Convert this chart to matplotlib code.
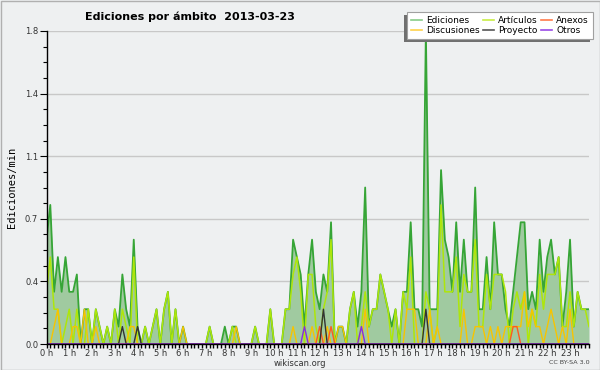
import matplotlib
matplotlib.use("Agg")
import matplotlib.pyplot as plt
import numpy as np
from matplotlib.lines import Line2D
from matplotlib.patches import Rectangle
from matplotlib.ticker import MultipleLocator, FixedLocator, FuncFormatter

# ---------------- data (edits per minute, 10-minute bins) ----------------
title = "Ediciones por ámbito  2013-03-23"
hour_labels = [f"{h} h" for h in range(24)]
bins_per_hour = 6

ediciones = [
    0.6, 0.8, 0.3, 0.5, 0.3, 0.5, 0.3, 0.3, 0.4, 0.0, 0.2, 0.2,
    0.0, 0.2, 0.1, 0.0, 0.1, 0.0, 0.2, 0.1, 0.4, 0.2, 0.1, 0.6,
    0.1, 0.0, 0.1, 0.0, 0.1, 0.2, 0.0, 0.2, 0.3, 0.0, 0.2, 0.0,
    0.1, 0.0, 0.0, 0.0, 0.0, 0.0, 0.0, 0.1, 0.0, 0.0, 0.0, 0.1,
    0.0, 0.1, 0.1, 0.0, 0.0, 0.0, 0.0, 0.1, 0.0, 0.0, 0.0, 0.2,
    0.0, 0.0, 0.0, 0.2, 0.2, 0.6, 0.5, 0.4, 0.1, 0.4, 0.6, 0.3,
    0.2, 0.4, 0.3, 0.7, 0.0, 0.1, 0.1, 0.0, 0.2, 0.3, 0.1, 0.3,
    0.9, 0.1, 0.2, 0.2, 0.4, 0.3, 0.2, 0.1, 0.2, 0.0, 0.3, 0.3,
    0.7, 0.2, 0.2, 0.1, 1.8, 0.2, 0.2, 0.2, 1.0, 0.6, 0.5, 0.3,
    0.7, 0.3, 0.6, 0.3, 0.3, 0.9, 0.2, 0.2, 0.5, 0.2, 0.7, 0.4,
    0.4, 0.2, 0.1, 0.3, 0.5, 0.7, 0.7, 0.2, 0.3, 0.2, 0.6, 0.3,
    0.5, 0.6, 0.4, 0.5, 0.1, 0.3, 0.6, 0.1, 0.3, 0.2, 0.2, 0.2,
]
articulos = [
    0.3, 0.5, 0.2, 0.2, 0.0, 0.1, 0.2, 0.0, 0.2, 0.0, 0.0, 0.2,
    0.0, 0.2, 0.1, 0.0, 0.1, 0.0, 0.2, 0.0, 0.2, 0.1, 0.0, 0.5,
    0.0, 0.0, 0.1, 0.0, 0.1, 0.2, 0.0, 0.2, 0.3, 0.0, 0.2, 0.0,
    0.0, 0.0, 0.0, 0.0, 0.0, 0.0, 0.0, 0.1, 0.0, 0.0, 0.0, 0.0,
    0.0, 0.1, 0.0, 0.0, 0.0, 0.0, 0.0, 0.1, 0.0, 0.0, 0.0, 0.2,
    0.0, 0.0, 0.0, 0.2, 0.2, 0.4, 0.5, 0.3, 0.0, 0.4, 0.4, 0.1,
    0.0, 0.2, 0.3, 0.6, 0.0, 0.0, 0.0, 0.0, 0.2, 0.3, 0.0, 0.1,
    0.3, 0.1, 0.2, 0.2, 0.4, 0.3, 0.2, 0.0, 0.2, 0.0, 0.3, 0.2,
    0.5, 0.0, 0.0, 0.0, 0.3, 0.2, 0.0, 0.1, 0.8, 0.3, 0.3, 0.3,
    0.5, 0.1, 0.4, 0.3, 0.3, 0.6, 0.1, 0.1, 0.4, 0.2, 0.4, 0.4,
    0.4, 0.3, 0.0, 0.2, 0.3, 0.2, 0.3, 0.0, 0.2, 0.1, 0.4, 0.2,
    0.4, 0.4, 0.4, 0.5, 0.1, 0.1, 0.3, 0.1, 0.3, 0.2, 0.2, 0.1,
]
discusiones = [
    0.0, 0.0, 0.1, 0.2, 0.0, 0.0, 0.0, 0.1, 0.1, 0.0, 0.2, 0.0,
    0.0, 0.1, 0.0, 0.0, 0.0, 0.0, 0.0, 0.0, 0.0, 0.0, 0.1, 0.1,
    0.0, 0.0, 0.0, 0.0, 0.0, 0.0, 0.0, 0.0, 0.0, 0.0, 0.0, 0.0,
    0.1, 0.0, 0.0, 0.0, 0.0, 0.0, 0.0, 0.0, 0.0, 0.0, 0.0, 0.0,
    0.0, 0.0, 0.1, 0.0, 0.0, 0.0, 0.0, 0.0, 0.0, 0.0, 0.0, 0.0,
    0.0, 0.0, 0.0, 0.0, 0.0, 0.1, 0.0, 0.0, 0.0, 0.0, 0.1, 0.0,
    0.0, 0.0, 0.1, 0.0, 0.0, 0.1, 0.1, 0.0, 0.0, 0.0, 0.0, 0.0,
    0.2, 0.0, 0.0, 0.0, 0.0, 0.0, 0.0, 0.0, 0.0, 0.0, 0.0, 0.2,
    0.2, 0.2, 0.0, 0.0, 0.0, 0.2, 0.0, 0.1, 0.0, 0.0, 0.0, 0.0,
    0.0, 0.0, 0.2, 0.0, 0.0, 0.1, 0.1, 0.1, 0.0, 0.1, 0.0, 0.1,
    0.0, 0.1, 0.1, 0.1, 0.1, 0.1, 0.3, 0.1, 0.2, 0.1, 0.1, 0.0,
    0.1, 0.2, 0.1, 0.0, 0.1, 0.0, 0.2, 0.0, 0.0, 0.0, 0.0, 0.0,
]
proyecto_bins = {20: 0.1, 24: 0.1, 73: 0.2, 100: 0.2}
anexos_bins = {72: 0.1, 75: 0.1, 123: 0.1, 124: 0.1}
otros_bins = {68: 0.1, 83: 0.1}
proyecto = [proyecto_bins.get(i, 0.0) for i in range(len(ediciones))]
anexos = [anexos_bins.get(i, 0.0) for i in range(len(ediciones))]
otros = [otros_bins.get(i, 0.0) for i in range(len(ediciones))]

# ---------------- styling ----------------
BG = "#eef0f1"
C_ED_LINE = "#36a536"
C_ED_FILL = "#a0caa0"
C_ART = "#aee60a"
C_DISC = "#f7c400"
C_PROY = "#333333"
C_ANEX = "#ff5a1f"
C_OTROS = "#8a2be2"

fig = plt.figure(figsize=(6.0, 3.7), dpi=100, facecolor=BG)
ax = fig.add_axes([46.5 / 600, 26 / 370, (589 - 46.5) / 600, (344 - 31) / 370])
ax.set_facecolor(BG)

x = np.arange(len(ediciones)) / bins_per_hour
ax.fill_between(x, 0, ediciones, color=C_ED_FILL, lw=0, zorder=1)
ax.plot(x, ediciones, color=C_ED_LINE, lw=1.3, zorder=2)
ax.plot(x, articulos, color=C_ART, lw=1.1, zorder=2.1)
ax.plot(x, discusiones, color=C_DISC, lw=1.0, zorder=2.2)
ax.plot(x, anexos, color=C_ANEX, lw=1.0, zorder=2.3)
ax.plot(x, proyecto, color=C_PROY, lw=1.0, zorder=2.4)
ax.plot(x, otros, color=C_OTROS, lw=1.0, zorder=2.5)

ax.set_xlim(0, (len(ediciones) - 1) / bins_per_hour)
ax.set_ylim(0, 1.8)

# axes / ticks
for s in ("top", "right"):
    ax.spines[s].set_visible(False)
for s in ("left", "bottom"):
    ax.spines[s].set_color("black")
    ax.spines[s].set_linewidth(1.0)
    ax.spines[s].set_zorder(5)

ax.xaxis.set_major_locator(FixedLocator(range(24)))
ax.set_xticklabels(hour_labels)
ax.xaxis.set_minor_locator(MultipleLocator(1 / bins_per_hour))
ax.yaxis.set_major_locator(MultipleLocator(0.36))
ax.yaxis.set_minor_locator(MultipleLocator(0.09))
ax.yaxis.set_major_formatter(FuncFormatter(lambda v, p: f"{v:.1f}"))
ax.tick_params(axis="x", which="major", direction="out", length=3, width=1,
               labelsize=6.0, pad=0.5, colors="black")
ax.tick_params(axis="x", which="minor", direction="out", length=3, width=1)
ax.tick_params(axis="y", which="major", direction="out", length=5, width=0.8,
               labelsize=6.0, pad=1, colors="black")
ax.tick_params(axis="y", which="minor", direction="out", length=3, width=0.8)
for lab in ax.get_xticklabels() + ax.get_yticklabels():
    lab.set_color("#333333")

ax.grid(axis="y", which="major", color="#c8c8c8", lw=1.0, zorder=0)
ax.set_axisbelow(True)

ax.set_ylabel("Ediciones/min", family="DejaVu Sans Mono", fontsize=7.5,
              labelpad=6)

fig.text(85 / 600, 1 - 17 / 370, title, fontsize=8, fontweight="bold",
         ha="left", va="center")
fig.text(300 / 600, 1 - 363 / 370, "wikiscan.org", fontsize=6.0,
         ha="center", va="center", color="#333333")
fig.text(590 / 600, 1 - 363 / 370, "CC BY-SA 3.0", fontsize=4.6,
         ha="right", va="center", color="#444444")

# legend
handles = [
    Line2D([], [], color="#88cc88", lw=1.2),
    Line2D([], [], color="#ffd24a", lw=1.2),
    Line2D([], [], color="#c8ee44", lw=1.2),
    Line2D([], [], color="#555555", lw=1.2),
    Line2D([], [], color="#ff7a4a", lw=1.2),
    Line2D([], [], color="#9a4ae6", lw=1.2),
]
labels = ["Ediciones", "Discusiones", "Artículos", "Proyecto", "Anexos", "Otros"]
leg = fig.legend(handles, labels, ncol=3, loc="upper right",
                 bbox_to_anchor=(593 / 600, 1 - 12 / 370),
                 fontsize=6.5, frameon=True, fancybox=False, shadow=False,
                 handlelength=1.2, handletextpad=0.45, columnspacing=0.4,
                 labelspacing=0.15, borderpad=0.45, borderaxespad=0)
leg.get_frame().set_facecolor("white")
leg.get_frame().set_edgecolor("#a0a0a0")
leg.get_frame().set_linewidth(0.8)
leg.get_frame().set_alpha(1)
leg.set_zorder(10)

fig.canvas.draw()
bb = leg.get_window_extent()
shadow = Rectangle((bb.x0 - 3, bb.y0 - 3), bb.width, bb.height,
                   transform=None, facecolor="#707070", edgecolor="none",
                   zorder=9)
fig.add_artist(shadow)

# outer border
fig.add_artist(Rectangle((0.5 / 600, 0.5 / 370), 599 / 600, 369 / 370,
                         transform=fig.transFigure, fill=False,
                         edgecolor="#b0b0b0", lw=1.0, zorder=20))

fig.savefig("out.png", dpi=100, facecolor=BG)
